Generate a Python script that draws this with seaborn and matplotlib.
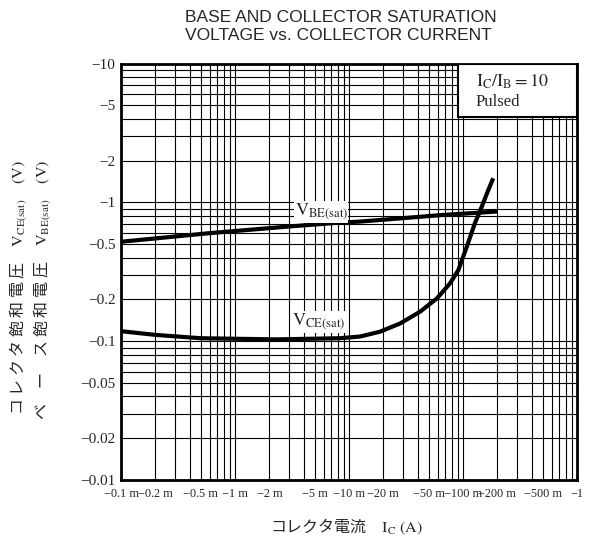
import matplotlib
matplotlib.use("Agg")
import matplotlib.pyplot as plt
import matplotlib.ticker as mticker
from matplotlib.patches import Rectangle
import seaborn as sns

ic_vbe = [1e-4, 6e-4, 2.8e-3, 8.3e-3, 1.2e-2, 1.87e-2, 6.5e-2, 1.84e-1, 2e-1]
vbe = [0.52, 0.60, 0.667, 0.715, 0.725, 0.746, 0.81, 0.855, 0.86]

ic_vce = [1e-4, 2e-4, 5e-4, 2.3e-3, 8.3e-3, 12.5e-3, 18.7e-3, 28e-3, 42e-3, 59e-3,
          77e-3, 91e-3, 108e-3, 127e-3, 146e-3, 167e-3, 184e-3]
vce = [0.118, 0.111, 0.105, 0.103, 0.105, 0.108, 0.117, 0.134, 0.163, 0.203,
       0.261, 0.325, 0.479, 0.706, 0.929, 1.23, 1.49]

x_ticks = [1e-4, 2e-4, 5e-4, 1e-3, 2e-3, 5e-3, 1e-2, 2e-2, 5e-2, 0.1, 0.2, 0.5, 1]
x_labels = ["−0.1 m", "−0.2 m", "−0.5 m", "−1 m", "−2 m", "−5 m", "−10 m", "−20 m",
            "−50 m", "−100 m", "−200 m", "−500 m", "−1"]
y_ticks = [0.01, 0.02, 0.05, 0.1, 0.2, 0.5, 1, 2, 5, 10]
y_labels = ["−0.01", "−0.02", "−0.05", "−0.1", "−0.2", "−0.5", "−1", "−2", "−5", "−10"]

sns.set_style("white")
plt.rcParams['font.family'] = ['Noto Sans CJK JP', 'DejaVu Sans']
plt.rcParams['mathtext.fontset'] = 'stix'

fig = plt.figure(figsize=(5.89, 5.41), dpi=100)
ax = fig.add_axes([121 / 589, 1 - 480 / 541, 456 / 589, 416.5 / 541])

# curvas
sns.lineplot(x=ic_vbe, y=vbe, ax=ax, color="black", linewidth=3, estimator=None,
             zorder=3, solid_capstyle="butt")
sns.lineplot(x=ic_vce, y=vce, ax=ax, color="black", linewidth=3, estimator=None,
             zorder=3, solid_capstyle="butt")

ax.set_xscale("log")
ax.set_yscale("log")
ax.set_xlim(1e-4, 1)
ax.set_ylim(0.01, 10)

# rejilla
ax.xaxis.set_major_locator(mticker.FixedLocator(x_ticks))
ax.xaxis.set_major_formatter(mticker.FixedFormatter(x_labels))
ax.yaxis.set_major_locator(mticker.FixedLocator(y_ticks))
ax.yaxis.set_major_formatter(mticker.FixedFormatter(y_labels))
ax.xaxis.set_minor_locator(mticker.LogLocator(base=10, subs=range(2, 10), numticks=20))
ax.yaxis.set_minor_locator(mticker.LogLocator(base=10, subs=range(2, 10), numticks=20))
ax.xaxis.set_minor_formatter(mticker.NullFormatter())
ax.yaxis.set_minor_formatter(mticker.NullFormatter())
ax.grid(which="both", color="black", linewidth=0.8, zorder=1)
ax.set_axisbelow(True)

ax.tick_params(which="both", length=0)
ax.tick_params(axis="x", pad=6)
ax.tick_params(axis="y", pad=4)
for lab in ax.get_xticklabels():
    lab.set_fontfamily("Liberation Serif")
    lab.set_fontsize(8.8)
for lab in ax.get_yticklabels():
    lab.set_fontfamily("Liberation Serif")
    lab.set_fontsize(11)

for sp in ax.spines.values():
    sp.set_color("black")
    sp.set_linewidth(2)

# etiquetas de las curvas
bbox_w = dict(facecolor="white", edgecolor="none", pad=0.5)
ax.text(5.7e-3, 0.85, r"$\mathrm{V_{BE(sat)}}$", fontsize=13, ha="center", va="center",
        bbox=bbox_w, zorder=4)
ax.text(5.4e-3, 0.137, r"$\mathrm{V_{CE(sat)}}$", fontsize=13, ha="center", va="center",
        bbox=bbox_w, zorder=4)

# recuadro de condiciones
ax.add_patch(Rectangle((0.739, 0.872), 0.261, 0.128, transform=ax.transAxes,
                       facecolor="white", edgecolor="black", linewidth=1.5, zorder=5))
ax.text(0.778, 0.955, r"$\mathrm{I_C/I_B = 10}$", transform=ax.transAxes, fontsize=13,
        ha="left", va="center", zorder=6)
ax.text(0.778, 0.908, "Pulsed", transform=ax.transAxes, fontsize=12,
        family="Liberation Serif", ha="left", va="center", zorder=6)

# titulo
fig.text(185 / 589, 1 - 17 / 541, "BASE AND COLLECTOR SATURATION", family="Liberation Sans",
         fontsize=12.5, ha="left", va="center")
fig.text(185 / 589, 1 - 36 / 541, "VOLTAGE vs. COLLECTOR CURRENT", family="Liberation Sans",
         fontsize=12.5, ha="left", va="center")

# etiquetas de ejes
fig.text(346 / 589, 1 - 527 / 541, r"コレクタ電流　$\mathrm{I_C}$ $\mathrm{(A)}$", fontsize=11.5,
         ha="center", va="center")
fig.text(18 / 589, 1 - 160 / 541, r"コ レ ク タ 飽 和 電 圧　$\mathrm{V_{CE(sat)}}$　$\mathrm{(V)}$",
         fontsize=11.5, rotation=90, rotation_mode="anchor", ha="right", va="center")
fig.text(42 / 589, 1 - 160 / 541, r"ベ　ー　ス 飽 和 電 圧　$\mathrm{V_{BE(sat)}}$　$\mathrm{(V)}$",
         fontsize=11.5, rotation=90, rotation_mode="anchor", ha="right", va="center")

plt.savefig("out.png", dpi=100)
